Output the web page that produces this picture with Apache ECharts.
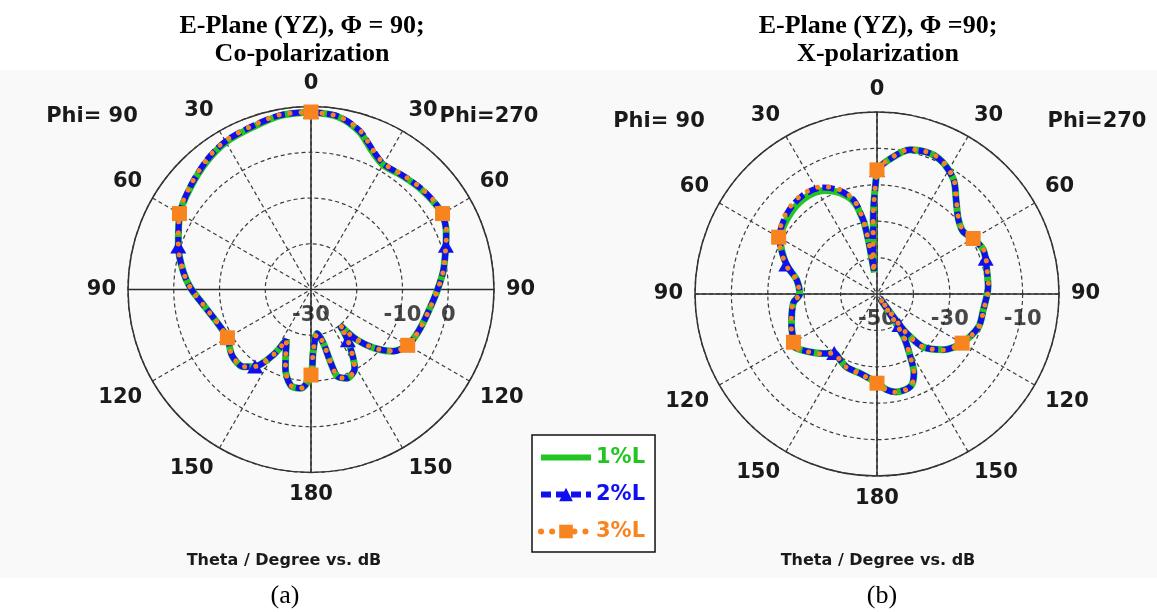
<!DOCTYPE html>
<html>
<head>
<meta charset="utf-8">
<script src="https://cdn.jsdelivr.net/npm/echarts@6/dist/echarts.min.js"></script>
<style>
  html, body { margin: 0; padding: 0; background: #ffffff; }
  #chart { width: 1157px; height: 612px; }
</style>
</head>
<body>
<div id="chart"></div>
<script>
// Theta in degrees, clockwise from boresight: 0-180 lies on the Phi=270 side, 180-360 on the Phi=90 side.

// (a) Co-polarization, dB
const thetaCo = [0, 9, 17, 24, 30, 39, 47, 54, 60, 67, 72, 82, 91, 99, 110, 120, 127, 133, 138, 141,
                 144, 151, 158, 163, 165, 167, 172, 178, 180, 186, 192, 198, 206, 210, 216, 221, 230, 240, 251, 262,
                 271, 278, 288, 300, 310, 321, 330, 340, 350, 360];
const co1 = [8.8, 8.2, 6.1, 3.0, 1.5, 1.9, 2.5, 2.9, 3.1, 2.1, 1.0, -0.8, -2.5, -3.7, -4.7, -5.6, -7.6, -11.3, -15.5, -20.0,
             -16.3, -10.3, -9.1, -10.1, -13.7, -17.9, -20.3, -16.4, -11.3, -8.3, -8.6, -11.9, -17.8, -13.5, -9.2, -7.6, -7.5, -8.9, -8.2, -6.2,
             -3.6, -1.8, 0.5, 3.1, 4.5, 6.1, 7.2, 7.7, 8.6, 8.8];
const co2 = [8.8, 8.3, 6.3, 3.3, 1.7, 2.0, 2.6, 3.0, 3.1, 2.1, 1.0, -0.8, -2.5, -3.7, -4.7, -5.6, -7.6, -11.3, -15.5, -20.0,
             -16.3, -10.3, -9.1, -10.1, -13.7, -17.9, -20.3, -16.4, -11.3, -8.3, -8.6, -11.9, -17.8, -13.5, -9.2, -7.6, -7.5, -8.9, -8.2, -6.2,
             -3.6, -1.8, 0.5, 3.1, 4.6, 6.3, 7.4, 7.9, 8.7, 8.8];
const co3 = [8.8, 8.3, 6.4, 3.4, 1.8, 2.1, 2.7, 3.1, 3.2, 2.2, 1.0, -0.8, -2.5, -3.7, -4.7, -5.6, -7.6, -11.3, -15.5, -20.0,
             -16.3, -10.3, -9.1, -10.1, -13.7, -17.9, -20.3, -16.4, -11.3, -8.3, -8.6, -11.9, -17.8, -13.5, -9.2, -7.6, -7.5, -8.9, -8.2, -6.2,
             -3.6, -1.8, 0.5, 3.2, 4.7, 6.4, 7.5, 8.0, 8.8, 8.8];

// (b) Cross-polarization, dB
const thetaX = [0, 4, 13, 21, 27, 34, 40, 47, 54, 60, 67, 72, 76, 86, 99, 108, 120, 130, 139, 143,
                144, 146, 148, 152, 155, 160, 169, 174, 180, 192, 202, 209, 216, 222, 229, 237, 240, 250, 264, 270,
                280, 288, 300, 312, 323, 333, 340, 346, 349, 350, 351, 352, 353, 355, 357, 358, 360];
const x1 = [-15.9, -13.5, -9.3, -8.7, -9.7, -12.3, -16.2, -19.5, -20.8, -19.5, -18.4, -18.6, -19.0, -19.4, -20.5, -20.7, -23.1, -26.2, -30.7, -36.5,
            -39.5, -48.5, -36.3, -30.5, -26.0, -23.0, -22.6, -23.5, -25.6, -27.7, -28.2, -29.2, -30.0, -28.0, -25.7, -23.1, -23.6, -25.0, -26.9, -28.8,
            -27.6, -23.8, -19.3, -17.6, -17.0, -18.1, -20.5, -24.0, -28.6, -31.0, -36.0, -42.0, -44.0, -38.0, -30.0, -25.0, -15.9];
const x2 = [-15.9, -13.5, -9.3, -8.7, -9.7, -12.3, -16.2, -19.5, -20.8, -19.5, -18.4, -18.6, -19.0, -19.4, -20.5, -20.7, -23.1, -26.2, -30.7, -36.5,
            -39.5, -48.5, -36.3, -30.5, -26.0, -23.0, -22.6, -23.5, -25.6, -27.7, -28.2, -29.2, -30.0, -28.0, -25.7, -23.1, -23.6, -25.0, -26.9, -28.8,
            -27.6, -23.8, -19.0, -16.8, -16.1, -17.2, -19.7, -23.4, -28.4, -31.0, -36.0, -42.0, -44.0, -38.0, -30.0, -25.0, -15.9];
const x3 = [-15.9, -13.4, -9.2, -8.6, -9.6, -12.2, -16.1, -19.4, -20.7, -19.5, -18.3, -18.5, -18.9, -19.3, -20.4, -20.6, -23.0, -26.1, -30.7, -36.5,
            -39.5, -48.5, -36.3, -30.5, -26.0, -23.0, -22.5, -23.4, -25.5, -27.6, -28.1, -29.1, -30.0, -27.9, -25.6, -23.0, -23.5, -24.9, -26.8, -28.7,
            -27.5, -23.6, -18.8, -16.5, -15.8, -16.9, -19.4, -23.2, -28.2, -31.0, -36.0, -42.0, -44.0, -38.0, -30.0, -25.0, -15.9];

// Radial scales and the ring values printed along the horizontal axis
const coRange = [-30, 10];
const xRange = [-50, 0];
const coRingLabels = [-30, -10, 0];
const xRingLabels = [-50, -30, -10];

// Theta values that carry a marker
const squareAt = [0, 60, 120, 180, 240, 300];
const triangleAt = [0, 72, 144, 216, 288];

const seriesNames = ['1%L', '2%L', '3%L'];

const GREEN = '#22c522';
const BLUE = '#1010ee';
const ORANGE = '#f7841f';
const INK = '#1a1a1a';
const GRID = '#3c3c3c';

const boldSans = { fontFamily: 'DejaVu Sans', fontWeight: 'bold', fontSize: 21, color: INK };

const greenLine = { color: GREEN, width: 7 };
const blueLine = { color: BLUE, width: 6, type: [12, 4] };
const orangeLine = { color: ORANGE, width: 5, type: [0.1, 11], cap: 'round' };

function angleText(v) {
  const a = Math.round(v);
  return String(a <= 180 ? a : 360 - a);
}

function angleAxis(idx) {
  return {
    polarIndex: idx, type: 'value', min: 0, max: 360, interval: 30,
    startAngle: 90, clockwise: true,
    axisLine: { show: true, lineStyle: { color: '#333', width: 1.5 } },
    axisTick: { show: false },
    axisLabel: Object.assign({ show: true, margin: 12, formatter: angleText }, boldSans),
    splitLine: { show: true, lineStyle: { color: GRID, width: 1.2, type: [4, 3] } }
  };
}

function radiusAxis(idx, range) {
  return {
    polarIndex: idx, type: 'value', min: range[0], max: range[1], interval: 10,
    axisLine: { show: false }, axisTick: { show: false }, axisLabel: { show: false },
    splitLine: { show: true, lineStyle: { color: GRID, width: 1.2, type: [4, 3] } }
  };
}

// Solid 0-180 and 90-270 axes drawn through the centre
function crossLines(idx, range) {
  const base = {
    type: 'line', coordinateSystem: 'polar', polarIndex: idx, symbol: 'none', silent: true,
    lineStyle: { color: '#2a2a2a', width: 1.5 }, z: 1, animation: false
  };
  return [
    Object.assign({}, base, { data: [[range[1], 0], [range[0], 0], [range[1], 180]] }),
    Object.assign({}, base, { data: [[range[1], 90], [range[0], 90], [range[1], 270]] })
  ];
}

function ringLabels(idx, values) {
  return {
    type: 'scatter', coordinateSystem: 'polar', polarIndex: idx, silent: true, z: 1,
    symbolSize: 1, itemStyle: { color: 'rgba(0,0,0,0)' },
    data: values.map(v => [v, 90]),
    label: Object.assign({ show: true, position: 'inside', offset: [0, 26],
      formatter: p => String(p.value[0]) }, boldSans),
    animation: false
  };
}

function curve(idx, name, theta, vals, kind) {
  const marks = kind === 'tri' ? triangleAt : (kind === 'sq' ? squareAt : []);
  const s = {
    name: name, type: 'line', coordinateSystem: 'polar', polarIndex: idx,
    smooth: 0.3, showSymbol: true, animation: false,
    data: theta.map((t, i) => marks.indexOf(t) >= 0
      ? { value: [vals[i], t] }
      : { value: [vals[i], t], symbol: 'none' })
  };
  if (kind === 'tri') {
    s.symbol = 'triangle'; s.symbolSize = [16, 14];
    s.itemStyle = { color: BLUE };
    s.lineStyle = blueLine;
    s.z = 3;
  } else if (kind === 'sq') {
    s.symbol = 'rect'; s.symbolSize = 15;
    s.itemStyle = { color: ORANGE };
    s.lineStyle = orangeLine;
    s.z = 4;
  } else {
    s.symbol = 'none';
    s.itemStyle = { color: GREEN };
    s.lineStyle = greenLine;
    s.z = 2;
  }
  return s;
}

const serifTitle = { fontFamily: 'Liberation Serif', fontWeight: 'bold', fontSize: 26, lineHeight: 28, color: '#000' };
const caption = Object.assign({}, boldSans, { fontSize: 16 });
const panelTag = { fontFamily: 'Liberation Serif', fontWeight: 'normal', fontSize: 26, color: '#000' };

const option = {
  backgroundColor: '#ffffff',
  animation: false,
  graphic: [{
    type: 'rect', silent: true, z: -10,
    shape: { x: 0, y: 70, width: 1157, height: 508 },
    style: { fill: '#f9f9f9' }
  }],
  title: [
    { text: 'E-Plane (YZ), \u03A6 = 90;\nCo-polarization', left: 302, top: 12, padding: 0, textAlign: 'center', textStyle: serifTitle },
    { text: 'E-Plane (YZ), \u03A6 =90;\nX-polarization', left: 878, top: 12, padding: 0, textAlign: 'center', textStyle: serifTitle },
    { text: 'Phi= 90', left: 92, top: 106, padding: 0, textAlign: 'center', textStyle: boldSans },
    { text: 'Phi=270', left: 489, top: 106, padding: 0, textAlign: 'center', textStyle: boldSans },
    { text: 'Phi= 90', left: 659, top: 111, padding: 0, textAlign: 'center', textStyle: boldSans },
    { text: 'Phi=270', left: 1097, top: 111, padding: 0, textAlign: 'center', textStyle: boldSans },
    { text: 'Theta / Degree vs. dB', left: 284, top: 553, padding: 0, textAlign: 'center', textStyle: caption },
    { text: 'Theta / Degree vs. dB', left: 878, top: 553, padding: 0, textAlign: 'center', textStyle: caption },
    { text: '(a)', left: 285, top: 583, padding: 0, textAlign: 'center', textStyle: panelTag },
    { text: '(b)', left: 882, top: 583, padding: 0, textAlign: 'center', textStyle: panelTag }
  ],
  legend: {
    orient: 'vertical', left: 532, top: 435,
    data: [
      { name: seriesNames[0], textStyle: { color: GREEN }, itemStyle: { opacity: 0 }, lineStyle: { width: 6 } },
      { name: seriesNames[1], textStyle: { color: BLUE }, lineStyle: { width: 6, type: [10, 5] } },
      { name: seriesNames[2], textStyle: { color: ORANGE }, lineStyle: { width: 6, type: [0.1, 11], cap: 'round' } }
    ],
    itemWidth: 50, itemHeight: 17, itemGap: 16,
    padding: [12, 10, 10, 6],
    borderColor: '#111', borderWidth: 1.5, backgroundColor: '#ffffff',
    textStyle: { fontFamily: 'DejaVu Sans', fontWeight: 'bold', fontSize: 21 },
    selectedMode: false
  },
  polar: [
    { center: [311, 289.5], radius: 183 },
    { center: [877, 294], radius: 182 }
  ],
  angleAxis: [angleAxis(0), angleAxis(1)],
  radiusAxis: [radiusAxis(0, coRange), radiusAxis(1, xRange)],
  series: [].concat(
    crossLines(0, coRange),
    crossLines(1, xRange),
    [ringLabels(0, coRingLabels), ringLabels(1, xRingLabels)],
    [
      curve(0, seriesNames[0], thetaCo, co1, 'solid'),
      curve(0, seriesNames[1], thetaCo, co2, 'tri'),
      curve(0, seriesNames[2], thetaCo, co3, 'sq'),
      curve(1, seriesNames[0], thetaX, x1, 'solid'),
      curve(1, seriesNames[1], thetaX, x2, 'tri'),
      curve(1, seriesNames[2], thetaX, x3, 'sq')
    ]
  )
};

const chart = echarts.init(document.getElementById('chart'), null, { renderer: 'canvas', width: 1157, height: 612 });
chart.setOption(option);
</script>
</body>
</html>
